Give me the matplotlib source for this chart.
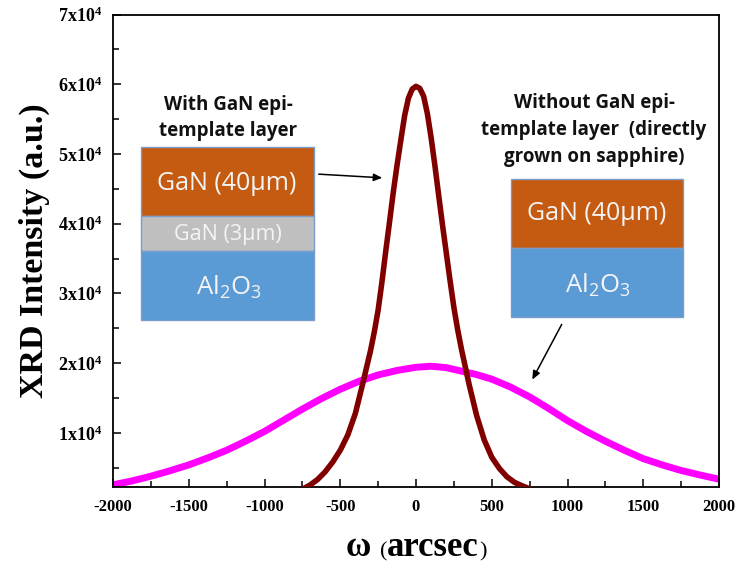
import matplotlib
matplotlib.use('Agg')
import matplotlib.pyplot as plt
from matplotlib.patches import Rectangle, FancyArrowPatch
from matplotlib.offsetbox import TextArea, HPacker, AnnotationBbox
from matplotlib.ticker import FixedLocator, MultipleLocator

# ---------------- data ----------------
narrow_x = [-760, -700, -650, -600, -550, -500, -450, -400, -350, -300, -275, -250, -225, -200, -175, -150,
            -125, -100, -75, -50, -25, 0, 25, 50, 75, 100, 125, 150, 175, 200, 225, 250, 275, 300,
            350, 400, 450, 500, 550, 600, 650, 700, 760]
narrow_y = [1800, 2500, 3300, 4400, 5800, 7500, 9700, 12800, 17200, 21800, 24500, 27600, 31600, 36000, 40200, 44500,
            48400, 52000, 55500, 58000, 59300, 59700, 59400, 58300, 55800, 52300, 48300, 44000, 39800, 35800, 31800,
            28000, 24800, 22000, 17000, 12500, 9000, 6500, 4900, 3700, 2900, 2400, 1900]

broad_x = [-2000, -1875, -1750, -1625, -1500, -1375, -1250, -1125, -1000, -875, -750, -625, -500, -375, -250,
           -125, 0, 100, 200, 300, 400, 500, 625, 750, 875, 1000, 1125, 1250, 1375, 1500, 1625, 1750, 1875, 2000]
broad_y = [2550, 3100, 3780, 4550, 5400, 6400, 7500, 8800, 10200, 11800, 13400, 14900, 16250, 17400, 18300,
           18950, 19400, 19550, 19350, 18850, 18350, 17700, 16550, 15150, 13500, 11750, 10200, 8800, 7500, 6300,
           5400, 4600, 3950, 3350]

x_ticks = [-2000, -1500, -1000, -500, 0, 500, 1000, 1500, 2000]
y_ticks = [10000, 20000, 30000, 40000, 50000, 60000, 70000]
y_tick_labels = [r'$\mathbf{1x10^{4}}$', r'$\mathbf{2x10^{4}}$', r'$\mathbf{3x10^{4}}$', r'$\mathbf{4x10^{4}}$',
                 r'$\mathbf{5x10^{4}}$', r'$\mathbf{6x10^{4}}$', r'$\mathbf{7x10^{4}}$']

# ---------------- style ----------------
plt.rcParams['mathtext.fontset'] = 'custom'
plt.rcParams['mathtext.rm'] = 'Open Sans'
plt.rcParams['mathtext.bf'] = 'Liberation Serif:bold'
plt.rcParams['mathtext.it'] = 'Open Sans:italic'

W, H = 735, 566
fig = plt.figure(figsize=(W / 100, H / 100), dpi=100)


def fx(px):
    return px / W


def fy(py):
    return 1 - py / H


ax = fig.add_axes([fx(113), fy(487), fx(719) - fx(113), fy(14.5) - fy(487)])
ax.plot(broad_x, broad_y, color='#ff00ff', lw=5, zorder=2)
ax.plot(narrow_x, narrow_y, color='#800000', lw=4, zorder=3)
ax.set_xlim(-2000, 2000)
ax.set_ylim(2230, 70000)

ax.xaxis.set_major_locator(FixedLocator(x_ticks))
ax.xaxis.set_minor_locator(MultipleLocator(250))
ax.yaxis.set_major_locator(FixedLocator(y_ticks))
ax.yaxis.set_minor_locator(MultipleLocator(5000))
ax.set_yticklabels(y_tick_labels)
ax.set_xticklabels([str(v) for v in x_ticks])
for lab in ax.get_xticklabels():
    lab.set_fontfamily('Liberation Serif')
    lab.set_fontweight('bold')
    lab.set_fontsize(12)
for lab in ax.get_yticklabels():
    lab.set_fontsize(13)

ax.tick_params(which='both', direction='in', top=False, right=False, width=1.1, color='black')
ax.tick_params(which='major', length=6)
ax.tick_params(which='minor', length=4.5)
ax.tick_params(axis='x', which='major', pad=8.5)
ax.tick_params(axis='y', which='major', pad=7.5)
for s in ax.spines.values():
    s.set_linewidth(1.3)

ax.set_ylabel('XRD Intensity (a.u.)', fontfamily='Liberation Serif', fontweight='bold', fontsize=24.5, labelpad=6)

# x label with mixed sizes
parts = [
    TextArea('ω ', textprops=dict(fontfamily='Liberation Serif', fontweight='bold', fontsize=25)),
    TextArea('(', textprops=dict(fontfamily='Liberation Serif', fontsize=16)),
    TextArea('arcsec', textprops=dict(fontfamily='Liberation Serif', fontweight='bold', fontsize=25)),
    TextArea(')', textprops=dict(fontfamily='Liberation Serif', fontsize=16)),
]
pack = HPacker(children=parts, align='baseline', pad=0, sep=0)
ab = AnnotationBbox(pack, (fx(416), fy(548)), xycoords='figure fraction', frameon=False, box_alignment=(0.5, 0.5))
fig.add_artist(ab)

# ---------------- layer diagrams ----------------
orange = '#C55A11'
gray = '#BFBFBF'
blue = '#5B9BD5'
edge = '#7a9cc8'


def box(x0, x1, y0, y1, color):
    r = Rectangle((fx(x0), fy(y1)), fx(x1) - fx(x0), fy(y0) - fy(y1), transform=fig.transFigure,
                  facecolor=color, edgecolor=edge, lw=1.0, zorder=5)
    fig.add_artist(r)


txt_sans = dict(fontfamily='Open Sans', ha='center', va='center', zorder=6)

# left stack
box(141, 314, 147, 216, orange)
box(141, 314, 216, 251, gray)
box(141, 314, 251, 320, blue)
fig.text(fx(227), fy(183), 'GaN (40μm)', color='#f4f4f4', fontsize=18, **txt_sans)
fig.text(fx(228), fy(234), 'GaN (3μm)', color='#f4f4f4', fontsize=15.5, **txt_sans)
fig.text(fx(229), fy(287), r'Al$_2$O$_3$', color='#f4f4f4', fontsize=18.5, **txt_sans)
fig.text(fx(228), fy(118), 'With GaN epi-\ntemplate layer', color='#111111', fontsize=13.5,
         fontweight='bold', linespacing=1.45, **txt_sans)

# right stack
box(511, 683, 179, 248, orange)
box(511, 683, 248, 317, blue)
fig.text(fx(597), fy(214), 'GaN (40μm)', color='#f4f4f4', fontsize=18, **txt_sans)
fig.text(fx(598), fy(285), r'Al$_2$O$_3$', color='#f4f4f4', fontsize=18.5, **txt_sans)
fig.text(fx(594), fy(130), 'Without GaN epi-\ntemplate layer  (directly\ngrown on sapphire)', color='#111111',
         fontsize=13.5, fontweight='bold', linespacing=1.45, **txt_sans)

# arrows
a1 = FancyArrowPatch((fx(316), fy(174)), (fx(385), fy(178)), transform=fig.transFigure,
                     arrowstyle='-|>,head_length=5,head_width=2.2', color='black', lw=1.1, zorder=6)
a2 = FancyArrowPatch((fx(563), fy(322)), (fx(531), fy(382)), transform=fig.transFigure,
                     arrowstyle='-|>,head_length=5,head_width=2.2', color='black', lw=1.1, zorder=6)
fig.add_artist(a1)
fig.add_artist(a2)

fig.savefig('out.png', dpi=100)
